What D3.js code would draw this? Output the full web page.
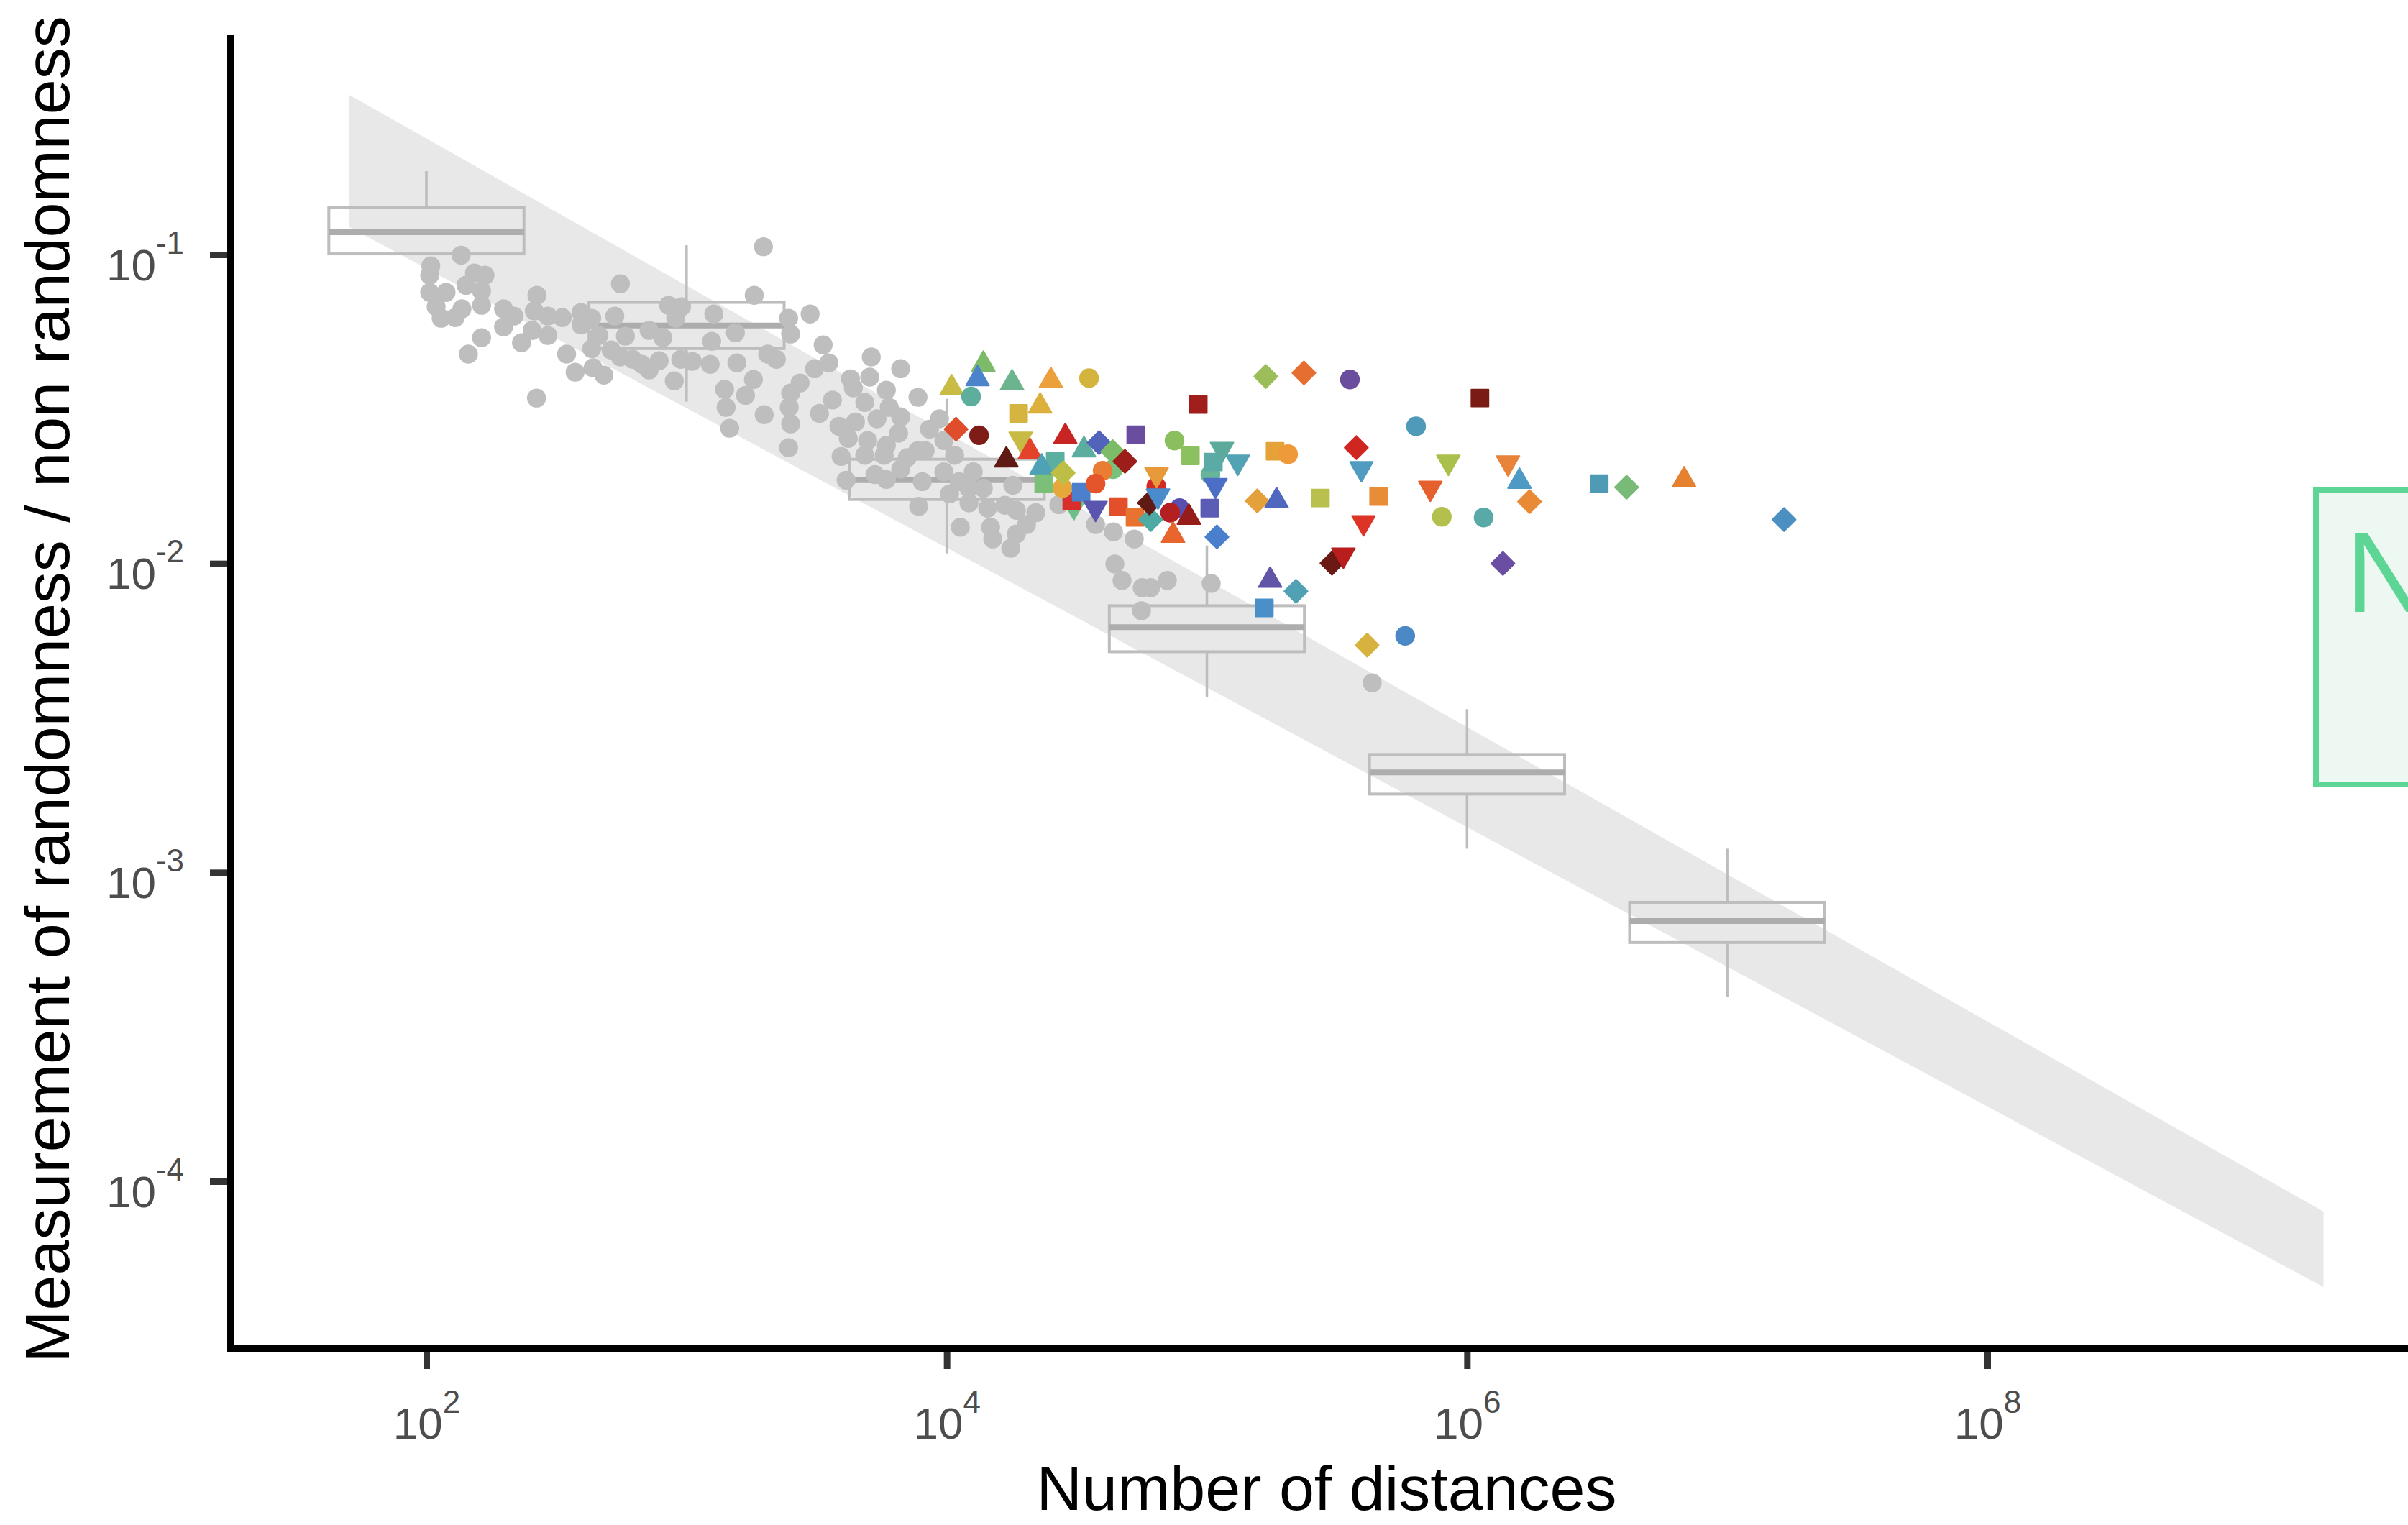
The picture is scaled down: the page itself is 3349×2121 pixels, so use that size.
<!DOCTYPE html>
<html>
<head>
<meta charset="utf-8">
<script src="https://cdn.jsdelivr.net/npm/d3@7"></script>
<style>
  html, body { margin: 0; padding: 0; background: #ffffff; }
  svg { display: block; }
</style>
</head>
<body>
<div id="chart"></div>
<script>
// ---- Reference distribution: boxplots of the randomness score per distance count ----
const boxDistances = [1e2, 1e3, 1e4, 1e5, 1e6, 1e7];
const boxLow    = [0.1000, 0.0334, 0.01078, 0.00370, 0.001193, 0.000396];
const boxQ1     = [0.1005, 0.0496, 0.01611, 0.00518, 0.001793, 0.000593];
const boxMedian = [0.1181, 0.0589, 0.01862, 0.00622, 0.002106, 0.000696];
const boxQ3     = [0.1424, 0.0700, 0.02175, 0.00730, 0.002408, 0.000800];
const boxHigh   = [0.1862, 0.1072, 0.0341, 0.01143, 0.003376, 0.001193];

// ---- Expected range for random data (straight band on log-log axes) ----
const bandDistances = [50.6, 1.96e9];
const bandUpper = [0.3286, 7.98e-5];
const bandLower = [0.1226, 4.55e-5];

// ---- Random reference samples (grey points) ----
const randomDistances = [
  136, 104, 103, 153, 168, 142, 103, 119, 163, 109, 137, 163, 114, 129, 198, 217, 198, 163, 145, 266,
  260, 293, 255, 232, 293, 333, 393, 393, 432, 557, 530, 460, 432, 346, 373, 437, 481, 265, 513, 582,
  557, 621, 718, 811, 718, 785, 853, 957, 909, 1273, 950, 1052, 897, 1249, 1233, 1541, 1400, 1419, 1465, 1685,
  1807, 1988, 2051, 1561, 1820, 1975, 674,
  2985, 2467, 2512, 2215, 3350, 3524, 3103, 2732, 2512, 2480, 2512, 2467, 5129, 6653, 4266, 5058, 4375, 5861,
  7754, 3637, 3243, 4842, 6012, 6653, 3852, 4457, 5395, 6531, 4183, 4966, 5861, 3926, 4842, 5748, 4104, 5297,
  5861, 6653, 7800, 8053, 8260, 8585, 9380, 9750, 10720, 9750, 11140, 10260, 12180, 12650, 13830, 14370, 12180,
  11280, 14740, 15030, 17620, 18530, 20260, 22000, 18530, 16740, 17950, 26980, 37320, 43750, 52600, 44300,
  47200, 56400, 56070, 7754, 7047,
  432000, 70470, 103900, 60870
];
const randomScores = [
  0.0995, 0.0919, 0.0857, 0.0871, 0.0857, 0.0795, 0.0754, 0.0754, 0.0762, 0.0677, 0.0667, 0.0685, 0.0622, 0.0625, 0.0667, 0.0632, 0.0583, 0.0538, 0.0476, 0.0738,
  0.0656, 0.0632, 0.0568, 0.0518, 0.0547, 0.0625, 0.0649, 0.0592, 0.0622, 0.0804, 0.0632, 0.0547, 0.0496, 0.0476, 0.0416, 0.0430, 0.0407, 0.0343, 0.0491, 0.0544,
  0.0466, 0.0458, 0.0568, 0.0538, 0.0423, 0.0453, 0.0685, 0.0677, 0.0622, 0.0642, 0.0458, 0.0451, 0.0390, 0.0524, 0.0441, 0.0558, 0.0366, 0.0320, 0.0274, 0.0350,
  0.0394, 0.0303, 0.0476, 0.0446, 0.0738, 0.106, 0.0441,
  0.0642, 0.0622, 0.0553, 0.0458, 0.0510, 0.0446, 0.0427, 0.0384, 0.0356, 0.0320, 0.0283, 0.0237, 0.0466, 0.0427, 0.0396, 0.0401, 0.0370, 0.0364,
  0.0345, 0.0338, 0.0306, 0.0332, 0.0320, 0.0298, 0.0278, 0.0287, 0.0294, 0.0264, 0.0254, 0.0250, 0.0241, 0.0222, 0.0224, 0.0224, 0.0186, 0.0194,
  0.0187, 0.0202, 0.0153, 0.0184, 0.0232, 0.0272, 0.0294, 0.0250, 0.0224, 0.0198, 0.0184, 0.0168, 0.0175, 0.0198, 0.0175, 0.0151, 0.0157,
  0.0131, 0.0131, 0.0120, 0.0112, 0.01246, 0.01336, 0.0146, 0.01486, 0.01543, 0.0179, 0.0155, 0.01336, 0.01266, 0.0120, 0.00996,
  0.00881, 0.00835, 0.00703, 0.0232, 0.0220,
  0.00411, 0.00881, 0.00862, 0.00835
];

// ---- Measured samples (one coloured symbol per sample) ----
const sampleDistances = [
  10450, 13830, 13140, 12410, 17830, 25150, 35240, 18890, 22860, 10860,
  13310, 19250, 20910, 16950, 28560, 33700, 38520, 53290, 43620, 43450,
  48420, 26130, 23160, 23600, 30830, 30250, 27860, 28030, 32860, 39760,
  37320, 37320, 45710, 52950, 60870, 63910, 64060, 60120, 64890, 78520,
  72280, 85310, 74130, 75100, 86430, 103200, 105900, 114300, 131400, 107900,
  102600, 109300, 168500, 236000, 354700, 92670, 1.121e6, 636800, 182900, 205200,
  375400, 392600, 847700, 1.437e6, 1.739e6, 1.591e6, 722800, 156100, 185300, 273200,
  457100, 400000, 800000, 1.158e6, 302500, 334900, 1.374e6, 175000, 220000, 166300,
  413000, 578500, 3.222e6, 4.104e6, 6.826e6, 1.653e7
];
const sampleScores = [
  0.0370, 0.0441, 0.0396, 0.0347, 0.0384, 0.0390, 0.0398, 0.0306, 0.0323, 0.0272,
  0.0260, 0.0253, 0.0230, 0.0216, 0.0257, 0.0233, 0.0246, 0.0261, 0.0202, 0.0230,
  0.0214, 0.0214, 0.0205, 0.01813, 0.0153, 0.01594, 0.01755, 0.01965, 0.0170, 0.01996,
  0.01813, 0.0151, 0.01527, 0.01409, 0.01387, 0.01774, 0.0194, 0.0157, 0.01655, 0.0151,
  0.0146, 0.01409, 0.01232, 0.0250, 0.0223, 0.0194, 0.0213, 0.02344, 0.0213, 0.0179,
  0.0151, 0.01219, 0.0403, 0.0414, 0.0394, 0.0327, 0.0343, 0.0278, 0.02307, 0.02258,
  0.0237, 0.0203, 0.0213, 0.0212, 0.01585, 0.01842, 0.01755, 0.01594, 0.01594, 0.01629,
  0.01646, 0.01357, 0.01416, 0.01409, 0.01002, 0.01066, 0.0100, 0.00881, 0.00813, 0.00718,
  0.00544, 0.00583, 0.01813, 0.01765, 0.01862, 0.01387
];
const sampleShapes = [
  "triangle", "triangle", "triangle", "circle", "triangle", "triangle", "circle", "square", "triangle", "diamond",
  "circle", "triangleDown", "triangle", "triangle", "triangle", "triangle", "diamond", "square", "circle", "diamond",
  "diamond", "square", "triangle", "square", "triangleDown", "square", "circle", "diamond", "square", "circle",
  "circle", "triangleDown", "square", "square", "diamond", "circle", "triangleDown", "diamond", "triangleDown", "circle",
  "circle", "triangle", "triangle", "circle", "square", "circle", "square", "triangleDown", "triangleDown", "triangleDown",
  "square", "diamond", "diamond", "diamond", "circle", "square", "square", "circle", "square", "circle",
  "diamond", "triangleDown", "triangleDown", "triangleDown", "diamond", "triangle", "triangleDown", "diamond", "triangle", "square",
  "square", "triangleDown", "circle", "circle", "diamond", "triangleDown", "diamond", "triangle", "diamond", "square",
  "diamond", "circle", "square", "diamond", "triangle", "diamond"
];
const sampleColours = [
  "#C9BC45", "#7DBB68", "#4C83CA", "#5DAE9D", "#6BB48D", "#EBA03C", "#D3B43D", "#D5B540", "#DDB03E", "#E04D2A",
  "#7E1D17", "#C7BB45", "#E4432B", "#5F1A13", "#C82423", "#5CAD9F", "#5163BA", "#6B4DA0", "#79C17D", "#7CBC66",
  "#9D1D1A", "#5BAFA0", "#4FA1B5", "#7CBF78", "#6DBF8A", "#D92E29", "#E6A83B", "#BEBD45", "#4C80CD", "#EA7C34",
  "#E4552B", "#5A56B0", "#E24F2A", "#E8722F", "#4FAAA3", "#D32A26", "#E89A3A", "#5F1A13", "#4A8BCB", "#5A4FAE",
  "#B42021", "#951C19", "#E8662E", "#8BBF5E", "#8DC160", "#66B49A", "#5BAAA5", "#5CAA9B", "#52A3B4", "#4C6EC4",
  "#5A5CB5", "#4A7FCB", "#9BBE5A", "#E66E30", "#6B4D9E", "#A01E1B", "#7B1B16", "#4F9AB9", "#E5A239", "#EE9A3A",
  "#D02622", "#509BBF", "#A9C04C", "#E8843A", "#E98A34", "#4F9AC4", "#E5602D", "#E4A03B", "#5068BD", "#BAC04D",
  "#E98C38", "#DD3426", "#B3C04E", "#5AA9A9", "#6B1914", "#B81E1E", "#6A4EA2", "#6155A8", "#4FA1B3", "#4A8FC7",
  "#D8B23E", "#4A88C6", "#4F9BB5", "#79BA79", "#E5812F", "#4C90C1"
];

// ---- Axis ticks ----
const xTicks = [1e2, 1e4, 1e6, 1e8];
const xTickExponents = ["2", "4", "6", "8"];
const yTicks = [1e-1, 1e-2, 1e-3, 1e-4];
const yTickExponents = ["-1", "-2", "-3", "-4"];

const xTitle = "Number of distances";
const yTitle = "Measurement of randomness / non randomness";
const noteText = "N";

// ---- Layout ----
const W = 3349, H = 2121;
const panel = { left: 321, top: 48, bottom: 1876, right: 3369 };
const font = "'Liberation Sans', Arial, Helvetica, sans-serif";

const x = d3.scaleLog().domain([1e2, 1e8]).range([593, 2764]);
const y = d3.scaleLog().domain([1e-1, 1e-4]).range([354, 1643]);

const svg = d3.select("#chart").append("svg")
  .attr("width", W).attr("height", H)
  .attr("viewBox", `0 0 ${W} ${H}`);

svg.append("rect").attr("width", W).attr("height", H).attr("fill", "#ffffff");

const plot = svg.append("g");

// Expected random band
const bandData = bandDistances.map((d, i) => ({ d, lo: bandLower[i], hi: bandUpper[i] }));
plot.append("path")
  .datum(bandData)
  .attr("fill", "#e8e8e8")
  .attr("d", d3.area().x(p => x(p.d)).y0(p => y(p.lo)).y1(p => y(p.hi)));

// Boxplots
const halfWidthDecades = 0.375;
const boxes = boxDistances.map((d, i) => ({
  d, low: boxLow[i], q1: boxQ1[i], med: boxMedian[i], q3: boxQ3[i], high: boxHigh[i]
}));
const boxG = plot.append("g").selectAll("g").data(boxes).join("g");
boxG.append("line")
  .attr("x1", b => x(b.d)).attr("x2", b => x(b.d))
  .attr("y1", b => y(b.high)).attr("y2", b => y(b.q3))
  .attr("stroke", "#bdbdbd").attr("stroke-width", 3.5);
boxG.append("line")
  .attr("x1", b => x(b.d)).attr("x2", b => x(b.d))
  .attr("y1", b => y(b.q1)).attr("y2", b => y(b.low))
  .attr("stroke", "#bdbdbd").attr("stroke-width", 3.5);
boxG.append("rect")
  .attr("x", b => x(b.d / Math.pow(10, halfWidthDecades)))
  .attr("width", b => x(b.d * Math.pow(10, halfWidthDecades)) - x(b.d / Math.pow(10, halfWidthDecades)))
  .attr("y", b => y(b.q3))
  .attr("height", b => y(b.q1) - y(b.q3))
  .attr("fill", "none")
  .attr("stroke", "#bdbdbd").attr("stroke-width", 4);
boxG.append("line")
  .attr("x1", b => x(b.d / Math.pow(10, halfWidthDecades)))
  .attr("x2", b => x(b.d * Math.pow(10, halfWidthDecades)))
  .attr("y1", b => y(b.med)).attr("y2", b => y(b.med))
  .attr("stroke", "#adadad").attr("stroke-width", 8);

// Grey random samples
const randomPts = randomDistances.map((d, i) => ({ d, v: randomScores[i] }));
plot.append("g").selectAll("circle").data(randomPts).join("circle")
  .attr("cx", p => x(p.d)).attr("cy", p => y(p.v))
  .attr("r", 13.2)
  .attr("fill", "#bebebe");

// Coloured measured samples
const symbolTypes = {
  circle: { type: d3.symbolCircle, size: 500, rotate: 0 },
  square: { type: d3.symbolSquare, size: 560, rotate: 0 },
  diamond: { type: d3.symbolSquare, size: 520, rotate: 45 },
  triangle: { type: d3.symbolTriangle, size: 440, rotate: 0 },
  triangleDown: { type: d3.symbolTriangle, size: 440, rotate: 180 }
};
const samplePts = sampleDistances.map((d, i) => ({
  d, v: sampleScores[i], shape: sampleShapes[i], colour: sampleColours[i]
}));
plot.append("g").selectAll("path").data(samplePts).join("path")
  .attr("d", p => d3.symbol().type(symbolTypes[p.shape].type).size(symbolTypes[p.shape].size)())
  .attr("transform", p => `translate(${x(p.d)},${y(p.v)}) rotate(${symbolTypes[p.shape].rotate})`)
  .attr("fill", p => p.colour)
  .attr("stroke", p => p.colour)
  .attr("stroke-width", 2.2)
  .attr("stroke-linejoin", "round");

// ---- Axes ----
const xAxisG = svg.append("g").attr("transform", `translate(0,${panel.bottom})`);
xAxisG.call(d3.axisBottom(x).tickValues(xTicks).tickSize(28).tickFormat(() => ""));
xAxisG.select(".domain").remove();
xAxisG.selectAll(".tick line").attr("stroke", "#333333").attr("stroke-width", 9);
xAxisG.selectAll(".tick").append("text")
  .attr("y", 125)
  .attr("fill", "#4d4d4d")
  .attr("font-family", font)
  .attr("font-size", 62)
  .attr("text-anchor", "middle")
  .each(function (d, i) {
    const t = d3.select(this);
    t.append("tspan").text("10");
    t.append("tspan").attr("dy", -36).attr("font-size", 44).text(xTickExponents[i]);
  });

const yAxisG = svg.append("g").attr("transform", `translate(${panel.left},0)`);
yAxisG.call(d3.axisLeft(y).tickValues(yTicks).tickSize(29).tickFormat(() => ""));
yAxisG.select(".domain").remove();
yAxisG.selectAll(".tick line").attr("stroke", "#333333").attr("stroke-width", 9);
yAxisG.selectAll(".tick").append("text")
  .attr("x", -65)
  .attr("y", 35)
  .attr("fill", "#4d4d4d")
  .attr("font-family", font)
  .attr("font-size", 62)
  .attr("text-anchor", "end")
  .each(function (d, i) {
    const t = d3.select(this);
    t.append("tspan").text("10");
    t.append("tspan").attr("dy", -37).attr("font-size", 44).text(yTickExponents[i]);
  });

// Axis lines
svg.append("line")
  .attr("x1", panel.left).attr("x2", W)
  .attr("y1", panel.bottom).attr("y2", panel.bottom)
  .attr("stroke", "#000000").attr("stroke-width", 10);
svg.append("line")
  .attr("x1", panel.left).attr("x2", panel.left)
  .attr("y1", panel.top).attr("y2", panel.bottom + 5)
  .attr("stroke", "#000000").attr("stroke-width", 10);

// Axis titles
svg.append("text")
  .attr("x", (panel.left + panel.right) / 2)
  .attr("y", 2100)
  .attr("text-anchor", "middle")
  .attr("font-family", font)
  .attr("font-size", 88)
  .attr("fill", "#000000")
  .text(xTitle);

svg.append("text")
  .attr("transform", `translate(96,${(panel.top + panel.bottom) / 2 - 3}) rotate(-90)`)
  .attr("text-anchor", "middle")
  .attr("font-family", font)
  .attr("font-size", 88)
  .attr("fill", "#000000")
  .text(yTitle);

// Annotation box at the right edge
const note = svg.append("g");
note.append("rect")
  .attr("x", 3221).attr("y", 682)
  .attr("width", 300).attr("height", 409)
  .attr("fill", "#edf8f2")
  .attr("stroke", "#5dd595")
  .attr("stroke-width", 8);
note.append("text")
  .attr("x", 3262).attr("y", 851)
  .attr("font-family", font)
  .attr("font-size", 160)
  .attr("fill", "#5dd595")
  .text(noteText);
</script>
</body>
</html>
